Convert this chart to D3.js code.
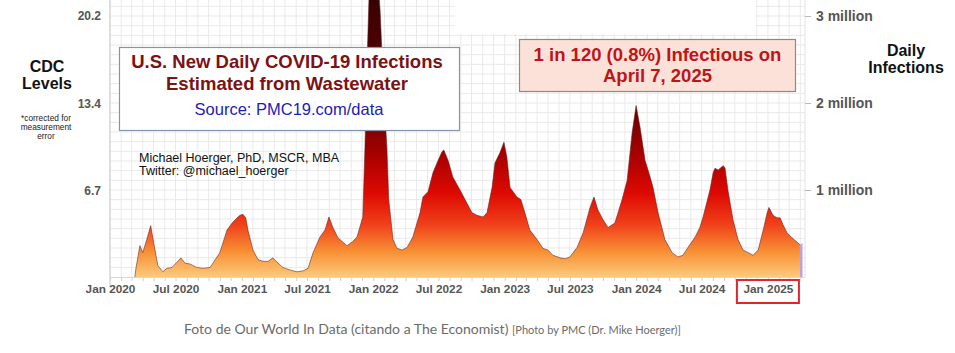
<!DOCTYPE html>
<html><head><meta charset="utf-8">
<script src="https://cdn.jsdelivr.net/npm/d3@7"></script>
<style>
html,body{margin:0;padding:0;background:#fff;}
svg{display:block;}
</style></head>
<body>
<svg id="chart" width="955" height="353"></svg>
<script>
// ---- data (daily infections, millions) ----
const dates = ["2020-03-10","2020-03-13","2020-03-24","2020-04-01","2020-04-12","2020-04-23","2020-05-05","2020-05-13","2020-05-27","2020-06-07","2020-06-21","2020-07-05","2020-07-16","2020-07-27","2020-08-10","2020-08-29","2020-09-15","2020-10-05","2020-11-01","2020-11-21","2020-12-05","2020-12-19","2020-12-27","2021-01-04","2021-01-12","2021-01-18","2021-02-01","2021-02-15","2021-03-01","2021-03-15","2021-03-28","2021-04-09","2021-04-25","2021-05-15","2021-06-03","2021-06-20","2021-07-04","2021-07-18","2021-08-06","2021-08-20","2021-08-31","2021-09-11","2021-09-25","2021-10-09","2021-10-20","2021-11-03","2021-11-17","2021-12-03","2021-12-09","2021-12-15","2021-12-20","2021-12-28","2022-01-03","2022-01-06","2022-01-14","2022-01-20","2022-01-31","2022-02-08","2022-02-13","2022-02-25","2022-03-08","2022-03-22","2022-04-05","2022-04-21","2022-05-11","2022-05-19","2022-06-02","2022-06-16","2022-06-30","2022-07-11","2022-07-16","2022-07-28","2022-08-10","2022-08-30","2022-09-13","2022-10-02","2022-10-16","2022-11-02","2022-11-13","2022-11-27","2022-12-05","2022-12-19","2022-12-30","2023-01-07","2023-01-16","2023-02-04","2023-02-15","2023-02-26","2023-03-12","2023-04-01","2023-04-17","2023-05-01","2023-05-15","2023-06-04","2023-06-18","2023-07-01","2023-07-21","2023-08-07","2023-08-26","2023-09-06","2023-09-17","2023-10-01","2023-10-15","2023-11-03","2023-11-23","2023-12-07","2023-12-21","2024-01-01","2024-01-12","2024-01-26","2024-02-09","2024-02-17","2024-03-02","2024-03-21","2024-04-10","2024-04-26","2024-05-10","2024-05-24","2024-06-13","2024-06-26","2024-07-05","2024-07-24","2024-08-02","2024-08-07","2024-08-16","2024-08-24","2024-08-30","2024-09-04","2024-09-12","2024-09-26","2024-10-10","2024-10-24","2024-11-07","2024-11-21","2024-12-05","2024-12-19","2024-12-30","2025-01-04","2025-01-15","2025-01-26","2025-02-04","2025-02-12","2025-02-23","2025-03-09","2025-03-23","2025-03-31"];
const infections = [0,0.10,0.36,0.28,0.43,0.59,0.31,0.13,0.06,0.10,0.11,0.17,0.22,0.16,0.15,0.11,0.10,0.11,0.28,0.54,0.62,0.68,0.71,0.72,0.68,0.54,0.31,0.20,0.18,0.18,0.22,0.17,0.11,0.08,0.06,0.07,0.10,0.28,0.46,0.54,0.69,0.57,0.45,0.40,0.36,0.40,0.46,0.69,1.49,2.49,3.18,3.87,4.05,3.95,3.41,3.07,2.03,1.49,0.89,0.43,0.33,0.31,0.34,0.46,0.74,0.92,0.98,1.20,1.34,1.44,1.46,1.34,1.15,1.00,0.89,0.74,0.71,0.69,0.74,1.03,1.31,1.43,1.55,1.38,1.03,0.92,0.89,0.74,0.54,0.43,0.33,0.31,0.25,0.22,0.21,0.23,0.34,0.51,0.80,0.92,0.77,0.66,0.57,0.62,0.89,1.11,1.66,1.97,1.72,1.34,1.15,1.03,0.74,0.43,0.28,0.23,0.25,0.34,0.46,0.57,0.69,1.00,1.20,1.25,1.23,1.26,1.28,1.25,1.00,0.66,0.43,0.31,0.28,0.25,0.31,0.54,0.74,0.80,0.71,0.68,0.68,0.60,0.51,0.45,0.40,0.37];
// nowcast segment (shown in purple)
const nowDates = ["2025-03-31","2025-04-07"];
const nowValues = [0.37,0.39];

const xTickDates = ["2020-01-01","2020-07-01","2021-01-01","2021-07-01","2022-01-01","2022-07-01","2023-01-01","2023-07-01","2024-01-01","2024-07-01","2025-01-01"];
const leftTicks = [6.7, 13.4, 20.2];      // CDC levels
const rightTicks = [1, 2, 3];             // millions
const levelsPerMillion = 20.2 / 3;

// ---- setup ----
const parse = d3.timeParse("%Y-%m-%d");
const svg = d3.select("#chart");
const X0 = 110, X1 = 805, Y0 = 277;

const x = d3.scaleTime().domain([parse("2020-01-01"), parse("2025-04-14")]).range([X0, X1]);
const y = d3.scaleLinear().domain([0, 3]).range([Y0, 16]);
const yLev = d3.scaleLinear().domain([0, 3 * levelsPerMillion]).range([Y0, 16]);

const series = dates.map((d, i) => ({date: parse(d), v: infections[i]}));
const nowSeries = nowDates.map((d, i) => ({date: parse(d), v: nowValues[i]}));

// ---- grid ----
const grid = svg.append("g");
grid.selectAll("line.v").data(x.ticks(d3.timeMonth.every(1))).join("line")
  .attr("x1", d => x(d)).attr("x2", d => x(d)).attr("y1", 0).attr("y2", Y0)
  .attr("stroke", "#e9e9e9").attr("stroke-width", 1);
grid.selectAll("line.h").data(d3.range(1, 29).map(k => k / 9)).join("line")
  .attr("x1", X0).attr("x2", X1).attr("y1", d => y(d)).attr("y2", d => y(d))
  .attr("stroke", "#e9e9e9").attr("stroke-width", 1);
// blank patch at top (as in source image)
svg.append("rect").attr("x", 455).attr("y", 0).attr("width", 300).attr("height", 34).attr("fill", "#fff");

// ---- gradient ----
const defs = svg.append("defs");
const grad = defs.append("linearGradient").attr("id", "fillGrad")
  .attr("gradientUnits", "userSpaceOnUse").attr("x1", 0).attr("x2", 0).attr("y1", Y0).attr("y2", 0);
[[0, "#fcca7c"], [0.09, "#f89135"], [0.19, "#f0401a"], [0.3, "#de0a02"], [0.44, "#a80000"], [0.62, "#640000"], [1, "#380202"]]
  .forEach(([o, c]) => grad.append("stop").attr("offset", o).attr("stop-color", c));

// ---- area ----
const area = d3.area().x(d => x(d.date)).y0(Y0).y1(d => y(d.v)).curve(d3.curveLinear);
const line = d3.line().x(d => x(d.date)).y(d => y(d.v)).curve(d3.curveLinear);
svg.append("path").datum(series).attr("d", area).attr("fill", "url(#fillGrad)");
svg.append("path").datum(series).attr("d", line).attr("fill", "none").attr("stroke", "#6a1c1c").attr("stroke-width", 0.7).attr("opacity", 0.8);
svg.append("path").datum(nowSeries).attr("d", area).attr("fill", "#b9a3d9");

// ---- axes ----
svg.append("line").attr("x1", X0).attr("x2", X0).attr("y1", 0).attr("y2", 287).attr("stroke", "#c9c9c9");
svg.append("line").attr("x1", X0).attr("x2", X1).attr("y1", Y0 + 0.5).attr("y2", Y0 + 0.5).attr("stroke", "#d8d8d8");
svg.append("line").attr("x1", X1).attr("x2", X1).attr("y1", 0).attr("y2", Y0).attr("stroke", "#e2e2e2");

// minor month ticks
const minor = svg.append("g").attr("transform", `translate(0,${Y0})`)
  .call(d3.axisBottom(x).ticks(d3.timeMonth.every(1)).tickSize(4).tickFormat(""));
minor.select(".domain").remove();
minor.selectAll("line").attr("stroke", "#d0d0d0");

const xAxis = svg.append("g").attr("transform", `translate(0,${Y0})`)
  .call(d3.axisBottom(x).tickValues(xTickDates.map(parse)).tickSize(0).tickPadding(8).tickFormat(d3.timeFormat("%b %Y")));
xAxis.select(".domain").remove();
xAxis.selectAll("text").attr("font-family", "Liberation Sans, Arial, sans-serif").attr("font-size", 11.8).attr("font-weight", "bold").attr("fill", "#555");

const lAxis = svg.append("g").attr("transform", `translate(${X0 - 9},0)`)
  .call(d3.axisLeft(yLev).tickValues(leftTicks).tickSize(0).tickPadding(0).tickFormat(d3.format(".1f")));
lAxis.select(".domain").remove();
lAxis.selectAll("text").attr("font-family", "Liberation Sans, Arial, sans-serif").attr("font-size", 12).attr("font-weight", "bold").attr("fill", "#555");

const rAxis = svg.append("g").attr("transform", `translate(${X1},0)`)
  .call(d3.axisRight(y).tickValues(rightTicks).tickSize(6).tickPadding(5).tickFormat(d => d + " million"));
rAxis.select(".domain").remove();
rAxis.selectAll("line").attr("stroke", "#bbb");
rAxis.selectAll("text").attr("font-family", "Liberation Sans, Arial, sans-serif").attr("font-size", 14).attr("font-weight", "bold").attr("fill", "#555");

// red box around Jan 2025
const jan25 = x(parse("2025-01-01"));
svg.append("rect").attr("x", jan25 - 31).attr("y", 280).attr("width", 62).attr("height", 23)
  .attr("fill", "none").attr("stroke", "#e0262b").attr("stroke-width", 2);

// ---- side labels ----
const txt = (s, xx, yy, size, weight, fill, anchor = "middle", family = "Liberation Sans, Arial, sans-serif") =>
  svg.append("text").attr("x", xx).attr("y", yy).attr("font-family", family).attr("font-size", size)
    .attr("font-weight", weight).attr("fill", fill).attr("text-anchor", anchor).text(s);

txt("CDC", 47, 72, 16, "bold", "#111");
txt("Levels", 47, 89, 16, "bold", "#111");
txt("*corrected for", 46, 121, 8.3, "normal", "#222");
txt("measurement", 46, 130, 8.3, "normal", "#222");
txt("error", 46, 139, 8.3, "normal", "#222");
txt("Daily", 906, 56, 16, "bold", "#111");
txt("Infections", 906, 73, 16, "bold", "#111");

// ---- title box ----
svg.append("rect").attr("x", 119.5).attr("y", 47.5).attr("width", 340).attr("height", 83)
  .attr("fill", "#fff").attr("stroke", "#8594ad").attr("stroke-width", 1.2);
txt("U.S. New Daily COVID-19 Infections", 287, 68, 18.5, "bold", "#7b1214");
txt("Estimated from Wastewater", 287, 90, 18.5, "bold", "#7b1214");
txt("Source: PMC19.com/data", 289, 115, 16.5, "normal", "#1d1db5");

// ---- right info box ----
svg.append("rect").attr("x", 519.5).attr("y", 39.5).attr("width", 276).attr("height", 52)
  .attr("fill", "#fbe1d7").attr("stroke", "#8a8a8a").attr("stroke-width", 1.2);
txt("1 in 120 (0.8%) Infectious on", 657.5, 61, 18.5, "bold", "#be1519");
txt("April 7, 2025", 657.5, 82, 18.5, "bold", "#be1519");

// ---- author ----
txt("Michael Hoerger, PhD, MSCR, MBA", 139, 162, 12.5, "normal", "#111", "start");
txt("Twitter: @michael_hoerger", 139, 175, 12.5, "normal", "#111", "start");

// ---- caption ----
const cap = svg.append("text").attr("x", 184).attr("y", 334).attr("font-family", "Lato, 'Open Sans', sans-serif").attr("fill", "#6b6b6b");
cap.append("tspan").attr("font-size", 14).text("Foto de Our World In Data (citando a The Economist) ");
cap.append("tspan").attr("font-size", 11).text("[Photo by PMC (Dr. Mike Hoerger)]");
</script>
</body></html>
